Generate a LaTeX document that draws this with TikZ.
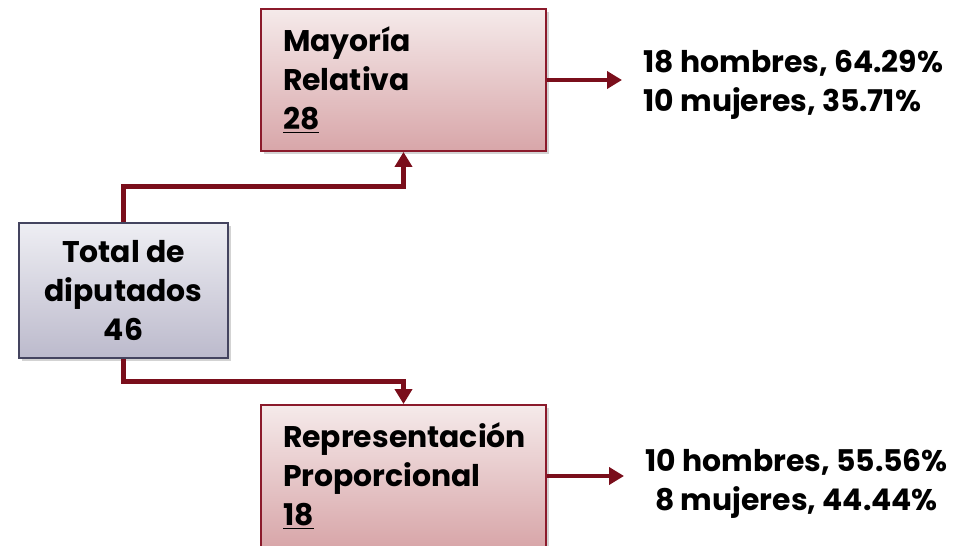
\documentclass[tikz,border=0pt]{standalone}
\usepackage{fontspec}
\setmainfont{Poppins}
\usetikzlibrary{arrows.meta,positioning,calc,shadows}
\definecolor{DipRed}{HTML}{7A0E1B}
\definecolor{DipRose}{HTML}{8B1A2B}
\definecolor{DipPinkTop}{HTML}{F5EAEA}
\definecolor{DipPinkBot}{HTML}{D8A6A9}
\definecolor{DipSlate}{HTML}{44445F}
\definecolor{DipGrayTop}{HTML}{EEEEF3}
\definecolor{DipGrayBot}{HTML}{BCBACC}

\begin{document}
\begin{tikzpicture}[x=0.02cm,y=0.02cm, every node/.style={font=\bfseries\fontsize{17}{22}\selectfont}]
    \tikzset{box/.style={draw,line width=1.1pt,drop shadow={shadow xshift=0.06cm,shadow yshift=-0.06cm,opacity=0.35},
      minimum height=2.84cm,inner sep=0pt},
      redbox/.style={box,draw=DipRose,top color=DipPinkTop,bottom color=DipPinkBot,
      minimum width=5.7cm,text width=4.82cm,align=left},
      link/.style={-{Triangle[length=0.3cm,width=0.34cm]},line width=2.8pt,DipRed}}
    \useasboundingbox (0,0) rectangle (957,545);
    \node[box,draw=DipSlate,top color=DipGrayTop,bottom color=DipGrayBot,
      minimum width=4.18cm,minimum height=2.7cm,align=center] (tot) at (123.5,254.5)
      {Total de\\diputados\\46};
    \node[redbox] (mr) at (403.5,465) {Mayoría\\Relativa\\\underline{28}};
    \node[redbox] (rp) at (403.5,69) {Representación\\Proporcional\\\underline{18}};
    \node[anchor=west,align=left,inner xsep=0pt] (mrt) at (643,460) {18 hombres, 64.29\%\\10 mujeres, 35.71\%};
    \node[anchor=west,align=center,inner xsep=0pt] (rpt) at (645,61) {10 hombres, 55.56\%\\8 mujeres, 44.44\%};
    \draw[link] (tot.north) -- ++(0,0.72cm) -| (mr.south);
    \draw[link] (tot.south) -- ++(0,-0.46cm) -| (rp.north);
    \foreach \a/\b in {mr/mrt,rp/rpt}{\draw[link,shorten >=0.42cm] (\a.east) -- (\a.east -| \b.west);}
  \end{tikzpicture}
\end{document}
